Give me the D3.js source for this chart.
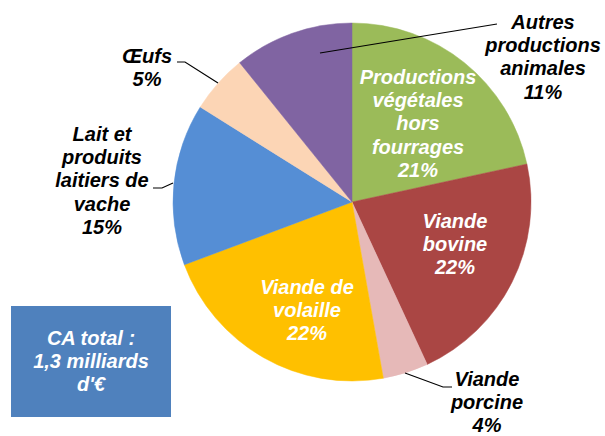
<!DOCTYPE html>
<html>
<head>
<meta charset="utf-8">
<script src="https://cdn.jsdelivr.net/npm/d3@7"></script>
<style>
  body { margin: 0; background: #fff; }
  svg text { font-family: "Liberation Sans", Arial, sans-serif; font-weight: bold; font-style: italic; font-size: 20px; }
</style>
</head>
<body>
<div id="chart"></div>
<script>
let width = 605;
let height = 436;

// Slices, clockwise from 12 o'clock
let categories = ["Productions végétales hors fourrages", "Viande bovine", "Viande porcine",
                  "Viande de volaille", "Lait et produits laitiers de vache", "Œufs", "Autres productions animales"];
let shares = [21.6, 21.5, 4.1, 22.1, 14.6, 5.3, 10.8];
let percentLabels = ["21%", "22%", "4%", "22%", "15%", "5%", "11%"];
let labelLines = [
    ["Productions", "végétales", "hors", "fourrages"],
    ["Viande", "bovine"],
    ["Viande", "porcine"],
    ["Viande de", "volaille"],
    ["Lait et", "produits", "laitiers de", "vache"],
    ["Œufs"],
    ["Autres", "productions", "animales"]
];
let totalText = ["CA total :", "1,3 milliards", "d'€"];

let colors = d3.scaleOrdinal()
    .domain(categories)
    .range(["#9bbb59", "#aa4644", "#e6b9b8", "#ffc000", "#558ed5", "#fcd5b5", "#8064a2"]);

// label placement: centre x, first baseline y, text colour, leader points
let layout = [
    {x: 418, y: 84, fill: "#fff"},
    {x: 455, y: 228, fill: "#fff"},
    {x: 487, y: 386, fill: "#000", leader: [[452, 387], [443, 387], [405, 373]]},
    {x: 307, y: 294, fill: "#fff"},
    {x: 102, y: 141, fill: "#000", leader: [[153, 188], [162, 188], [173, 183]]},
    {x: 147, y: 63, fill: "#000", leader: [[177, 62], [185, 62], [218, 83]]},
    {x: 543, y: 29, fill: "#000", leader: [[497, 24], [320, 53]]}
];

let cx = 352, cy = 202, radius = 179;
let lineH = 23.2;

let svg = d3.select("#chart").append("svg")
    .attr("width", width)
    .attr("height", height);

let pie = d3.pie().sort(null).value(d => d);
let arc = d3.arc().innerRadius(0).outerRadius(radius);

let g = svg.append("g").attr("transform", "translate(" + cx + "," + cy + ")");

g.selectAll("path")
    .data(pie(shares))
    .enter()
    .append("path")
    .attr("d", arc)
    .attr("fill", (d, i) => colors(categories[i]))
    .attr("stroke", (d, i) => colors(categories[i]))
    .attr("stroke-width", 0.5);

// leader lines
let line = d3.line();
layout.forEach(function(l) {
    if (l.leader) {
        svg.append("path")
            .attr("d", line(l.leader))
            .attr("fill", "none")
            .attr("stroke", "#000")
            .attr("stroke-width", 1.2);
    }
});

// labels
categories.forEach(function(c, i) {
    let l = layout[i];
    let lines = labelLines[i].concat([percentLabels[i]]);
    let t = svg.append("text")
        .attr("text-anchor", "middle")
        .attr("fill", l.fill);
    lines.forEach(function(s, j) {
        t.append("tspan")
            .attr("x", l.x)
            .attr("y", l.y + j * lineH)
            .text(s);
    });
});

// total box
svg.append("rect")
    .attr("x", 11)
    .attr("y", 306)
    .attr("width", 160)
    .attr("height", 111)
    .attr("fill", "#4f81bd");

let tt = svg.append("text")
    .attr("text-anchor", "middle")
    .attr("fill", "#fff");
totalText.forEach(function(s, j) {
    tt.append("tspan")
        .attr("x", 91)
        .attr("y", 345 + j * lineH)
        .text(s);
});
</script>
</body>
</html>
